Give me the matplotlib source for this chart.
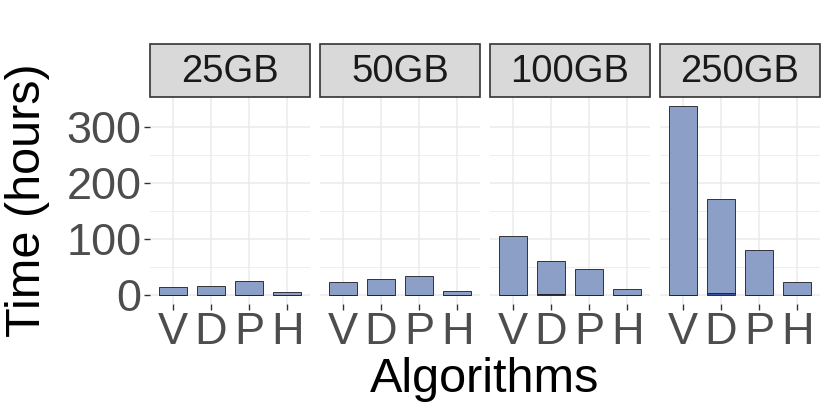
import matplotlib
matplotlib.use("Agg")
import matplotlib.pyplot as plt
from matplotlib.patches import Rectangle
import numpy as np

plt.rcParams["font.family"] = ["Liberation Sans", "DejaVu Sans"]

facets = ["25GB", "50GB", "100GB", "250GB"]
algorithms = ["V", "D", "P", "H"]
# main time (hours) per facet
main_time = {
    "25GB": [14, 16, 25, 5],
    "50GB": [23, 27, 34, 7],
    "100GB": [105, 60, 46, 10],
    "250GB": [336, 168, 80, 23],
}
# small bottom segment (hours)
extra_time = {
    "25GB": [0, 0, 0, 0],
    "50GB": [0, 0, 0, 0],
    "100GB": [0, 0.6, 0, 0],
    "250GB": [0, 3, 0, 0],
}
yticks = [0, 100, 200, 300]
yminor = [50, 150, 250]

W, H = 830, 415
fig = plt.figure(figsize=(W / 100, H / 100), dpi=100)
fig.patch.set_facecolor("white")

panel_x = [150, 320, 490, 660]
panel_w = 160
panel_top = 97
panel_bot = 304
strip_top = 44

fill_main = "#8C9FC6"
fill_extra = "#3A55A4"
grid_c = "#EBEBEB"
tick_c = "#4D4D4D"

ymax_data = max(max(np.array(main_time[f]) + np.array(extra_time[f])) for f in facets)
yrange = ymax_data
ylim = (-0.05 * yrange, ymax_data + 0.05 * yrange)

x = np.arange(1, len(algorithms) + 1)
for i, f in enumerate(facets):
    left = panel_x[i] / W
    bottom = 1 - panel_bot / H
    ax = fig.add_axes([left, bottom, panel_w / W, (panel_bot - panel_top) / H])
    ax.set_xlim(0.4, 4.6)
    ax.set_ylim(*ylim)
    for s in ax.spines.values():
        s.set_visible(False)
    ax.set_axisbelow(True)
    for yv in yticks:
        ax.axhline(yv, color=grid_c, lw=1.1, zorder=0)
    for yv in yminor:
        ax.axhline(yv, color=grid_c, lw=0.6, zorder=0)
    for xv in x:
        ax.axvline(xv, color=grid_c, lw=1.1, zorder=0)
    ex = np.array(extra_time[f])
    mn = np.array(main_time[f])
    ax.bar(x, ex, width=0.75, color=fill_extra, edgecolor="#1a1a1a", lw=0.6, zorder=2)
    ax.bar(x, mn, bottom=ex, width=0.75, color=fill_main, edgecolor="#1a1a1a", lw=0.6, zorder=2)
    ax.set_xticks(x)
    ax.set_xticklabels(algorithms, fontsize=32.5, color=tick_c)
    ax.tick_params(axis="x", length=4, width=1, color="#333333", pad=2)
    ax.set_yticks(yticks)
    if i == 0:
        ax.set_yticklabels([str(v) for v in yticks], fontsize=32.5, color=tick_c)
        ax.tick_params(axis="y", length=4, width=1, color="#333333", pad=2)
    else:
        ax.tick_params(axis="y", length=0, labelleft=False)
    # strip
    sax = fig.add_axes([left, 1 - panel_top / H, panel_w / W, (panel_top - strip_top) / H])
    sax.set_xlim(0, 1)
    sax.set_ylim(0, 1)
    sax.axis("off")
    sax.add_patch(Rectangle((0, 0), 1, 1, facecolor="#D9D9D9", edgecolor="#333333",
                            lw=1.2, transform=sax.transAxes, clip_on=False))
    sax.text(0.5, 0.47, f, ha="center", va="center", fontsize=27.5, color="#1A1A1A")

fig.text(485 / W, 1 - 380 / H, "Algorithms", ha="center", va="center", fontsize=35, color="black")
fig.text(28 / W, 1 - 200 / H, "Time (hours)", ha="center", va="center", rotation=90,
         fontsize=35, color="black")

fig.savefig("out.png", dpi=100)
